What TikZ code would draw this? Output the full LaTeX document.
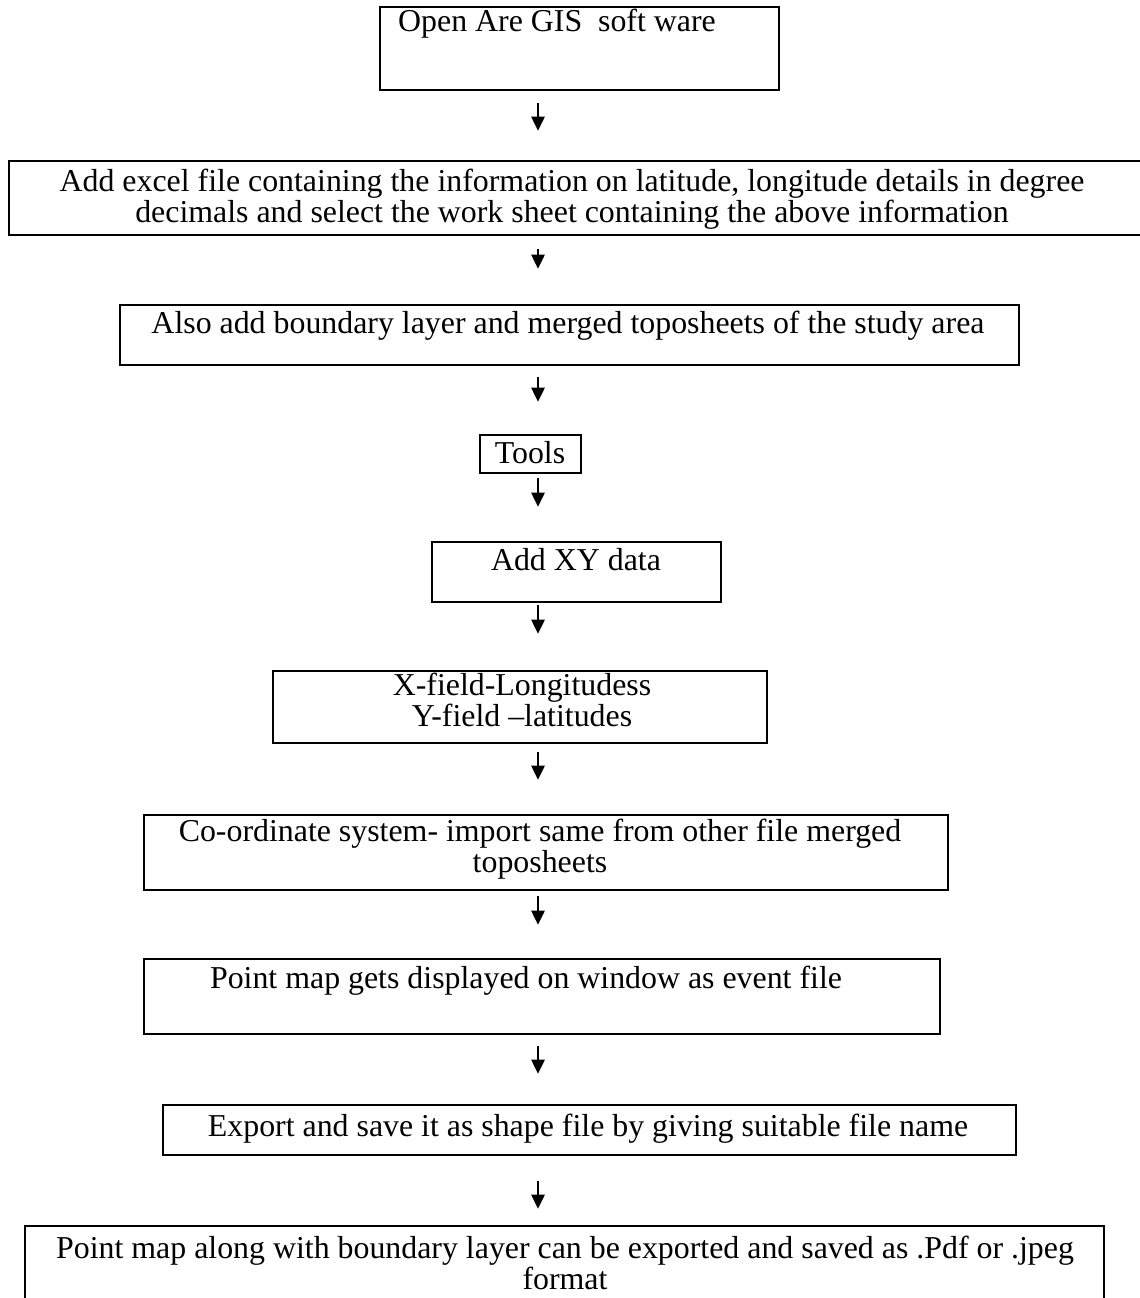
\documentclass[tikz,border=0pt]{standalone}
\usepackage{fontspec}
\setmainfont{Liberation Serif}
\usetikzlibrary{arrows.meta,fit}
\tikzset{
  flowbox/.style={draw, line width=1.9pt, inner sep=0pt},
  flowtxt/.style={inner sep=0pt, align=center, font=\fontsize{23.9}{23}\selectfont},
  flowarr/.style={line width=1.1pt, -{Triangle[length=10.5pt,width=10pt]}},
}
\begin{document}
\begin{tikzpicture}[x=0.75pt,y=0.75pt,yscale=-1,xscale=1]
\useasboundingbox (0,0) rectangle (1139,1298);
\coordinate (col) at (538,0);

%Box: open software
\node[flowbox, fit={(380,7) (779,90)}] (open) {};
\node[flowtxt, anchor=base] (open-t) at (557,32) {Open Are GIS\ \ soft ware};
%Box: excel file
\node[flowbox, fit={(9,161) (1150,235)}] (excel) {};
\node[flowtxt] (excel-t) at (572,199) {Add excel file containing the information on latitude, longitude details in degree\\decimals and select the work sheet containing the above information};
%Box: boundary layer
\node[flowbox, fit={(120,305) (1019,365)}] (also) {};
\node[flowtxt, anchor=base] (also-t) at (568,333) {Also add boundary layer and merged toposheets of the study area};
%Box: tools
\node[flowbox, fit={(480,435) (581,473)}] (tools) {};
\node[flowtxt, anchor=base] (tools-t) at (530,463) {Tools};
%Box: add xy data
\node[flowbox, fit={(432,542) (721,602)}] (xy) {};
\node[flowtxt, anchor=base] (xy-t) at (576,570) {Add XY data};
%Box: fields
\node[flowbox, fit={(273,671) (767,743)}] (field) {};
\node[flowtxt] (field-t) at (522,700) {X-field-Longitudess\\Y-field --latitudes};
%Box: co-ordinate system
\node[flowbox, fit={(144,815) (948,890)}] (coord) {};
\node[flowtxt] (coord-t) at (540,849) {Co-ordinate system- import same from other file merged\\toposheets};
%Box: point map
\node[flowbox, fit={(144,959) (940,1034)}] (point) {};
\node[flowtxt, anchor=base] (point-t) at (526,988) {Point map gets displayed on window as event file};
%Box: export
\node[flowbox, fit={(163,1105) (1016,1155)}] (export) {};
\node[flowtxt] (export-t) at (588,1129) {Export and save it as shape file by giving suitable file name};
%Box: final output
\node[flowbox, fit={(25,1226) (1104,1320)}] (final) {};
\node[flowtxt] (final-t) at (565,1263) {Point map along with boundary layer can be exported and saved as .Pdf or .jpeg\\format};

%Arrows
\draw[flowarr, shorten <=9pt, shorten >=21.75pt] (open.south -| col) -- (excel.north -| col);
\draw[flowarr, shorten <=9.5pt, shorten >=26.25pt] (excel.south -| col) -- (also.north -| col);
\draw[flowarr, shorten <=8.25pt, shorten >=24pt] (also.south -| col) -- (tools.north -| col);
\draw[flowarr, shorten <=3pt, shorten >=25.5pt] (tools.south -| col) -- (xy.north -| col);
\draw[flowarr, shorten <=1.5pt, shorten >=27pt] (xy.south -| col) -- (field.north -| col);
\draw[flowarr, shorten <=6pt, shorten >=25.5pt] (field.south -| col) -- (coord.north -| col);
\draw[flowarr, shorten <=3.75pt, shorten >=24.75pt] (coord.south -| col) -- (point.north -| col);
\draw[flowarr, shorten <=8.25pt, shorten >=22.5pt] (point.south -| col) -- (export.north -| col);
\draw[flowarr, shorten <=18.75pt, shorten >=12pt] (export.south -| col) -- (final.north -| col);

\end{tikzpicture}
\end{document}
